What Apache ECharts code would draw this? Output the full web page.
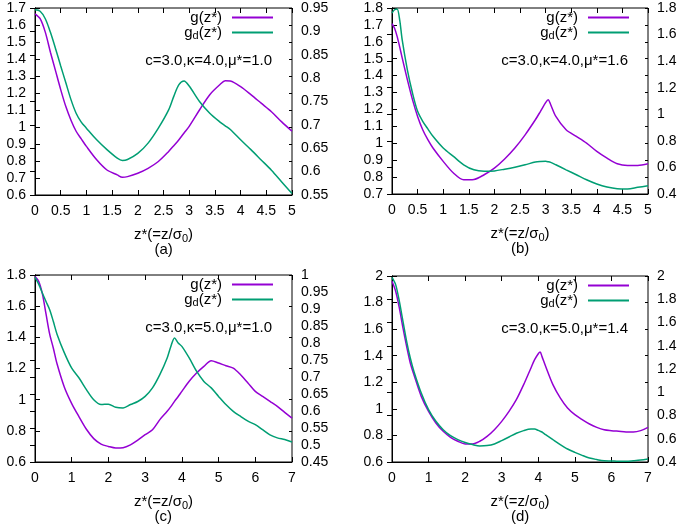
<!DOCTYPE html>
<html><head><meta charset="utf-8">
<script src="https://cdn.jsdelivr.net/npm/echarts@6/dist/echarts.min.js"></script>
<style>html,body{margin:0;padding:0;background:#fff}#c{width:685px;height:529px}</style>
</head><body><div id="c"></div>
<script>
// ---------- data ----------
// panel (a): c=3.0, kappa=4.0, mu*=1.0
const zA = [0,0.1,0.2,0.3,0.4,0.5,0.6,0.7,0.8,0.9,1.0,1.2,1.4,1.6,1.7,1.8,2.0,2.2,2.4,2.6,2.7,2.8,2.9,3.0,3.2,3.4,3.6,3.7,3.8,4.0,4.2,4.4,4.6,4.8,5.0];
const gA = [1.666,1.637,1.558,1.44,1.33,1.22,1.12,1.04,0.975,0.93,0.886,0.807,0.747,0.718,0.704,0.708,0.728,0.757,0.797,0.856,0.89,0.925,0.965,1.004,1.10,1.19,1.25,1.272,1.27,1.237,1.19,1.14,1.09,1.03,0.975];
const gdA = [0.946,0.943,0.927,0.898,0.863,0.826,0.790,0.754,0.725,0.706,0.693,0.668,0.647,0.629,0.624,0.626,0.639,0.661,0.693,0.732,0.761,0.786,0.794,0.783,0.750,0.725,0.706,0.698,0.690,0.668,0.647,0.625,0.603,0.578,0.553];
// panel (b): c=3.0, kappa=4.0, mu*=1.6
const zB = [0,0.05,0.1,0.15,0.2,0.3,0.4,0.5,0.6,0.7,0.8,1.0,1.2,1.4,1.6,1.8,2.0,2.2,2.4,2.6,2.8,2.9,3.0,3.05,3.1,3.2,3.4,3.6,3.8,4.0,4.2,4.4,4.6,4.8,5.0];
const gB = [1.707,1.68,1.632,1.57,1.504,1.376,1.258,1.159,1.08,1.021,0.972,0.893,0.824,0.784,0.786,0.814,0.853,0.907,0.972,1.05,1.139,1.189,1.24,1.258,1.228,1.159,1.08,1.041,1.001,0.952,0.912,0.879,0.869,0.869,0.879];
const gdB = [1.762,1.787,1.792,1.711,1.558,1.335,1.160,1.022,0.947,0.89,0.834,0.746,0.683,0.620,0.582,0.572,0.574,0.587,0.602,0.620,0.641,0.645,0.646,0.643,0.638,0.620,0.582,0.545,0.507,0.475,0.452,0.439,0.437,0.450,0.462];
// panel (c): c=3.0, kappa=5.0, mu*=1.0
const zC = [0,0.1,0.2,0.3,0.4,0.5,0.6,0.8,1.0,1.2,1.4,1.6,1.8,2.0,2.2,2.4,2.6,2.8,3.0,3.2,3.4,3.6,3.7,3.8,3.9,4.0,4.2,4.4,4.6,4.8,5.0,5.2,5.4,5.6,5.8,6.0,6.2,6.4,6.6,6.8,7.0];
const gC = [1.79,1.76,1.68,1.55,1.42,1.33,1.23,1.08,0.975,0.89,0.81,0.75,0.715,0.70,0.69,0.692,0.71,0.74,0.775,0.807,0.872,0.925,0.955,0.989,1.02,1.053,1.118,1.171,1.214,1.25,1.235,1.218,1.203,1.16,1.107,1.053,1.021,0.989,0.957,0.919,0.882];
const gdC = [0.993,0.973,0.947,0.922,0.898,0.863,0.826,0.771,0.726,0.697,0.663,0.633,0.619,0.620,0.611,0.609,0.619,0.628,0.643,0.668,0.707,0.756,0.790,0.815,0.800,0.790,0.756,0.717,0.687,0.668,0.643,0.619,0.599,0.584,0.570,0.560,0.545,0.530,0.521,0.516,0.509];
// panel (d): c=3.0, kappa=5.0, mu*=1.4
const zD = [0,0.1,0.2,0.3,0.4,0.5,0.6,0.8,1.0,1.2,1.4,1.6,1.8,2.0,2.2,2.4,2.6,2.8,3.0,3.2,3.4,3.6,3.8,3.9,4.0,4.05,4.1,4.2,4.4,4.6,4.8,5.0,5.2,5.4,5.6,5.8,6.0,6.2,6.4,6.6,6.8,7.0];
const gD = [1.96,1.885,1.76,1.609,1.47,1.345,1.257,1.094,0.981,0.894,0.831,0.786,0.756,0.736,0.736,0.756,0.793,0.843,0.906,0.981,1.069,1.182,1.308,1.37,1.415,1.428,1.395,1.32,1.182,1.082,1.006,0.956,0.919,0.886,0.861,0.843,0.836,0.831,0.826,0.826,0.836,0.861];
const gdD = [1.989,1.926,1.783,1.610,1.438,1.295,1.179,0.993,0.850,0.750,0.678,0.626,0.592,0.567,0.550,0.538,0.541,0.555,0.584,0.615,0.647,0.670,0.683,0.683,0.672,0.665,0.658,0.635,0.592,0.550,0.512,0.483,0.457,0.434,0.421,0.411,0.409,0.406,0.406,0.411,0.417,0.426];

const seriesNames = ['g(z*)', 'gd(z*)'];
const panelLabels = ['(a)', '(b)', '(c)', '(d)'];
const paramTexts = ['c=3.0,κ=4.0,μ*=1.0', 'c=3.0,κ=4.0,μ*=1.6', 'c=3.0,κ=5.0,μ*=1.0', 'c=3.0,κ=5.0,μ*=1.4'];
// axis settings per panel: [xmax, xint, lmin, lmax, lint, rmin, rmax, rint]
const axisA = [5, 0.5, 0.6, 1.7, 0.1, 0.55, 0.95, 0.05];
const axisB = [5, 0.5, 0.7, 1.8, 0.1, 0.4, 1.8, 0.2];
const axisC = [7, 1, 0.6, 1.8, 0.2, 0.45, 1.0, 0.05];
const axisD = [7, 1, 0.6, 2.0, 0.2, 0.4, 2.0, 0.2];

// ---------- layout ----------
const FONT = 'Liberation Sans, Arial, sans-serif';
const C_G = '#9400d3', C_GD = '#009e73';
const panels = [
  {z: zA, g: gA, gd: gdA, ax: axisA, grid: {left: 35, top: 8, width: 257, height: 187}},
  {z: zB, g: gB, gd: gdB, ax: axisB, grid: {left: 392, top: 8, width: 256, height: 186}},
  {z: zC, g: gC, gd: gdC, ax: axisC, grid: {left: 35, top: 275, width: 257, height: 187}},
  {z: zD, g: gD, gd: gdD, ax: axisD, grid: {left: 392, top: 276, width: 256, height: 186}}
];

const grids = [], xAxes = [], yAxes = [], series = [], legends = [], graphics = [];
const tickStyle = {show: true, inside: true, length: 5, lineStyle: {color: '#000', width: 1}};
const lblStyle = {color: '#000', fontFamily: FONT, fontSize: 14};

panels.forEach((p, i) => {
  const [xmax, xint, lmin, lmax, lint, rmin, rmax, rint] = p.ax;
  grids.push(Object.assign({show: true, borderColor: '#000', borderWidth: 1, backgroundColor: 'transparent'}, p.grid));
  xAxes.push({
    type: 'value', gridIndex: i, min: 0, max: xmax, interval: xint, position: 'bottom',
    axisLine: {show: true, lineStyle: {color: '#000'}}, axisTick: tickStyle, splitLine: {show: false},
    axisLabel: Object.assign({margin: 9}, lblStyle),
    name: '{a|z*(=z/σ}{s|0}{a|)}', nameLocation: 'middle', nameGap: 31,
    nameTextStyle: {rich: {
      a: {fontFamily: FONT, fontSize: 15, color: '#000', lineHeight: 18},
      s: {fontFamily: FONT, fontSize: 11, color: '#000', lineHeight: 9, verticalAlign: 'bottom'}
    }}
  });
  xAxes.push({
    type: 'value', gridIndex: i, min: 0, max: xmax, interval: xint, position: 'top',
    axisLine: {show: false}, axisTick: tickStyle, axisLabel: {show: false}, splitLine: {show: false}
  });
  yAxes.push({
    type: 'value', gridIndex: i, min: lmin, max: lmax, interval: lint, position: 'left',
    axisLine: {show: true, lineStyle: {color: '#000'}}, axisTick: tickStyle, splitLine: {show: false},
    axisLabel: Object.assign({margin: 9}, lblStyle)
  });
  yAxes.push({
    type: 'value', gridIndex: i, min: rmin, max: rmax, interval: rint, position: 'right',
    axisLine: {show: true, lineStyle: {color: '#000'}}, axisTick: tickStyle, splitLine: {show: false},
    axisLabel: Object.assign({margin: 9}, lblStyle)
  });
  yAxes.push({
    type: 'value', gridIndex: i, min: lmin, max: lmax, interval: lint, position: 'right',
    axisLine: {show: false}, axisTick: {show: true, inside: true, length: 3, lineStyle: {color: '#000'}},
    axisLabel: {show: false}, splitLine: {show: false}
  });
  series.push({
    type: 'line', name: seriesNames[0], xAxisIndex: 2 * i, yAxisIndex: 3 * i,
    data: p.z.map((x, k) => [x, p.g[k]]), showSymbol: false, symbol: 'none', smooth: 0.3,
    color: C_G, lineStyle: {color: C_G, width: 1.5}
  });
  series.push({
    type: 'line', name: seriesNames[1], xAxisIndex: 2 * i, yAxisIndex: 3 * i + 1,
    data: p.z.map((x, k) => [x, p.gd[k]]), showSymbol: false, symbol: 'none', smooth: 0.3,
    color: C_GD, lineStyle: {color: C_GD, width: 1.5}
  });
  const gx = p.grid.left, gw = p.grid.width, gt = p.grid.top, gh = p.grid.height;
  const rightEdge = gx + gw;
  legends.push({
    data: seriesNames, orient: 'vertical', align: 'right', padding: 0,
    right: 685 - (rightEdge - 19), top: gt + 2, itemGap: 0,
    itemWidth: 41, itemHeight: 2, icon: 'rect',
    selectedMode: false,
    formatter: n => n === 'gd(z*)' ? '{t|g}{s|d}{t|(z*)}' : '{t|g(z*)}',
    textStyle: {padding: [0, 5, 0, 0], rich: {
      t: {fontFamily: FONT, fontSize: 15, color: '#000', lineHeight: 17},
      s: {fontFamily: FONT, fontSize: 11, color: '#000', lineHeight: 9, verticalAlign: 'bottom'}
    }}
  });
  graphics.push({
    type: 'text', right: 685 - (rightEdge - 20), top: gt + 45,
    style: {text: paramTexts[i], fontFamily: FONT, fontSize: 15, fill: '#000'}
  });
  graphics.push({
    type: 'text', left: gx + gw / 2 - 9, top: gt + gh + 47,
    style: {text: panelLabels[i], fontFamily: FONT, fontSize: 15, fill: '#000'}
  });
});

const chart = echarts.init(document.getElementById('c'), null, {renderer: 'canvas'});
chart.setOption({
  animation: false,
  backgroundColor: '#fff',
  grid: grids, xAxis: xAxes, yAxis: yAxes, series: series,
  legend: legends, graphic: graphics
});
</script></body></html>
